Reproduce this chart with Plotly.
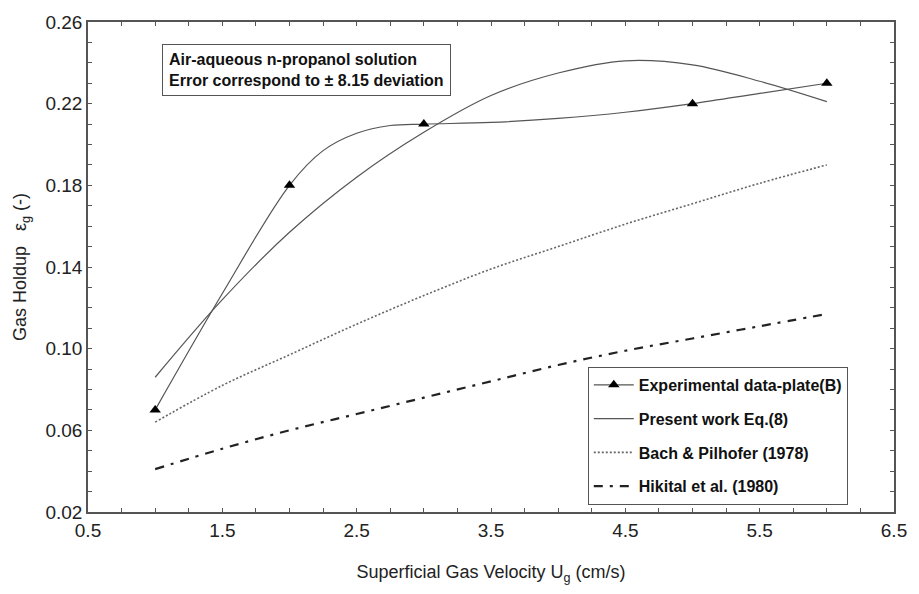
import plotly.graph_objects as go

# Experimental data-plate(B): measured points
exp_x = [1, 2, 3, 5, 6]
exp_y = [0.070, 0.180, 0.210, 0.220, 0.230]

# Experimental fitted curve
exp_curve_x = [1, 1.5, 2.0, 2.25, 2.5, 2.75, 3.0, 3.5, 4.0, 4.5, 5.0, 5.5, 6.0]
exp_curve_y = [0.070, 0.127, 0.180, 0.197, 0.2055, 0.2093, 0.210, 0.2108, 0.2128, 0.2158, 0.220, 0.225, 0.230]

# Model curves
curve_x = [1, 1.5, 2, 2.5, 3, 3.5, 4, 4.5, 5, 5.5, 6]
present_y = [0.086, 0.124, 0.157, 0.184, 0.206, 0.224, 0.235, 0.241, 0.239, 0.231, 0.221]
bach_y = [0.064, 0.082, 0.097, 0.112, 0.126, 0.139, 0.150, 0.161, 0.171, 0.181, 0.190]
hikita_y = [0.041, 0.051, 0.060, 0.068, 0.076, 0.084, 0.092, 0.099, 0.105, 0.111, 0.117]

x_ticks = [0.5, 1.5, 2.5, 3.5, 4.5, 5.5, 6.5]
y_ticks = [0.02, 0.06, 0.10, 0.14, 0.18, 0.22, 0.26]

NARROW = "Liberation Sans Narrow, Arial Narrow, Liberation Sans, sans-serif"
REG = "Liberation Sans, Arial, sans-serif"

LINE_EXP = dict(color="#555555", width=1.2)
MARK_EXP = dict(symbol="triangle-up", size=10, color="black")

fig = go.Figure()
fig.add_trace(go.Scatter(
    x=exp_curve_x, y=exp_curve_y, mode="lines",
    line=dict(**LINE_EXP, shape="spline", smoothing=1.0),
    showlegend=False, legendgroup="a", hoverinfo="skip"))
fig.add_trace(go.Scatter(
    x=exp_x, y=exp_y, mode="markers", marker=MARK_EXP,
    showlegend=False, legendgroup="a"))
fig.add_trace(go.Scatter(
    x=[None], y=[None], mode="lines+markers", line=LINE_EXP, marker=MARK_EXP,
    name="<b>Experimental data-plate(B)</b>", legendgroup="a"))
fig.add_trace(go.Scatter(
    x=curve_x, y=present_y, mode="lines",
    line=dict(color="#555555", width=1.2, shape="spline"),
    name="<b>Present work Eq.(8)</b>", legendgroup="b"))
fig.add_trace(go.Scatter(
    x=curve_x, y=bach_y, mode="lines",
    line=dict(color="#666666", width=1.6, dash="2px,2px", shape="spline"),
    name="<b>Bach & Pilhofer (1978)</b>", legendgroup="c"))
fig.add_trace(go.Scatter(
    x=curve_x, y=hikita_y, mode="lines",
    line=dict(color="#222222", width=2.2, dash="9px,7px,3px,7px", shape="spline"),
    name="<b>Hikital et al. (1980)</b>", legendgroup="d"))

axis_common = dict(
    showline=True, linecolor="#555555", linewidth=1.5, mirror="allticks",
    ticks="inside", ticklen=4, tickcolor="#555555", showgrid=False, zeroline=False,
    tickfont=dict(family=REG, size=19, color="#222222"),
)

fig.update_xaxes(
    range=[0.5, 6.5], tickvals=x_ticks, ticktext=[f"{v:.1f}" for v in x_ticks],
    minor=dict(dtick=0.25, tick0=0.5, ticks="inside", ticklen=4, tickcolor="#555555"),
    title=dict(text="Superficial Gas Velocity U<sub>g</sub> (cm/s)",
               font=dict(family=REG, size=18, color="#222222"), standoff=26),
    **axis_common)
fig.update_yaxes(
    range=[0.02, 0.26], tickvals=y_ticks, ticktext=[f"{v:.2f}" for v in y_ticks],
    minor=dict(dtick=0.01, tick0=0.02, ticks="inside", ticklen=4, tickcolor="#555555"),
    title=dict(text="Gas Holdup   ε<sub>g</sub> (-)",
               font=dict(family=REG, size=18, color="#222222"), standoff=14),
    **axis_common)

fig.add_annotation(
    xref="paper", yref="paper", x=(163 - 88) / 816, y=(512 - 41) / 493,
    xanchor="left", yanchor="top", align="left", showarrow=False,
    text="<b>Air-aqueous n-propanol solution<br>Error correspond to ± 8.15 deviation</b>",
    font=dict(family=NARROW, size=16, color="#111111"),
    bordercolor="#555555", borderwidth=1, borderpad=6, bgcolor="white")

fig.update_layout(
    width=919, height=594, autosize=False,
    margin=dict(l=88, r=15, t=19, b=82),
    plot_bgcolor="white", paper_bgcolor="white",
    legend=dict(x=(594 - 88) / 816, y=(512 - 366) / 493, xanchor="left", yanchor="top",
                bordercolor="#555555", borderwidth=1, bgcolor="white",
                font=dict(family=NARROW, size=16, color="#111111"),
                traceorder="grouped", tracegroupgap=10, itemwidth=40),
)

fig.write_html("out.html")
